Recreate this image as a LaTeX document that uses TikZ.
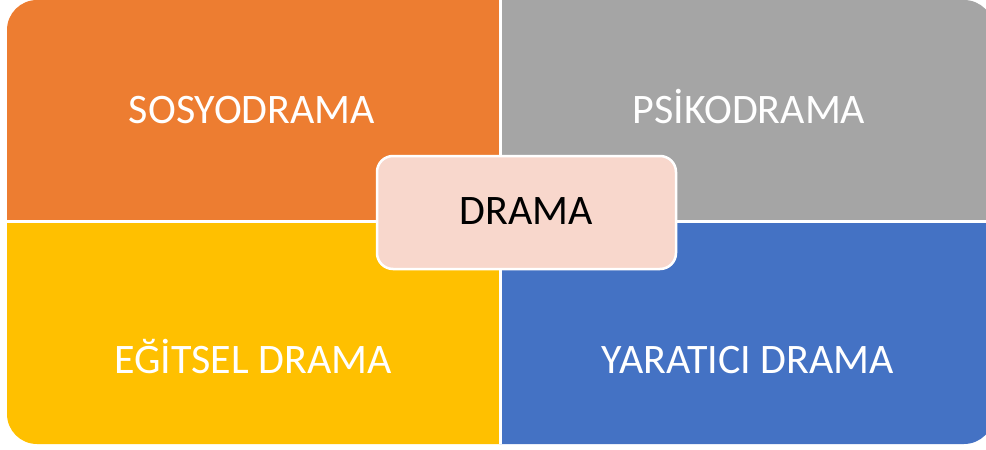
\documentclass[tikz,border=0pt]{standalone}
\usepackage{fontspec}
\setmainfont{Carlito}
\usepackage{xcolor}
\usepackage{tikz}

\definecolor{sosyo}{HTML}{ED7D31}
\definecolor{psiko}{HTML}{A5A5A5}
\definecolor{egitsel}{HTML}{FFC000}
\definecolor{yaratici}{HTML}{4472C4}
\definecolor{merkez}{HTML}{F8D7CC}

\begin{document}
\begin{tikzpicture}[x=1pt,y=-1pt,
  quad/.style={font=\fontsize{42}{46}\selectfont,text=white,anchor=base,inner sep=0pt},
  center/.style={font=\fontsize{42}{46}\selectfont,text=black,anchor=base,inner sep=0pt}]
\useasboundingbox (0,0) rectangle (986,450);
\begin{scope}
\clip (0,0) rectangle (986,450);
\clip[rounded corners=30pt] (7,0) rectangle (994,444);
\fill[sosyo] (0,0) rectangle (500,221);
\fill[psiko] (500,0) rectangle (1000,221);
\fill[egitsel] (0,221) rectangle (500,450);
\fill[yaratici] (500,221) rectangle (1000,450);
\draw[white,line width=3pt] (500,0) -- (500,450);
\draw[white,line width=3pt] (0,221) -- (1000,221);
\end{scope}

\node[quad] (sosyo) at (252,123) {SOSYODRAMA};
\node[quad] (psiko) at (749,123) {PSİKODRAMA};
\node[quad] (egitsel) at (253,373) {EĞİTSEL DRAMA};
\node[quad] (yaratici) at (748,373) {YARATICI DRAMA};

\fill[merkez,draw=white,line width=2.5pt,rounded corners=16pt] (377,156) rectangle (676,269);
\node[center] (drama) at (526,224) {DRAMA};
\end{tikzpicture}
\end{document}
